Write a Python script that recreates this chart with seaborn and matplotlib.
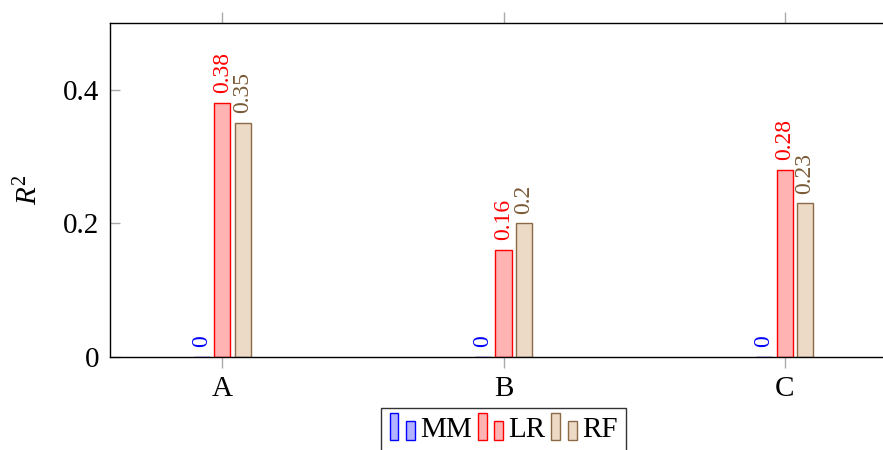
import pandas as pd
import matplotlib
matplotlib.use("Agg")
import matplotlib.pyplot as plt
import seaborn as sns
from matplotlib.patches import Rectangle
from matplotlib.legend_handler import HandlerBase

# data
categories = ["A", "B", "C"]
methods = ["MM", "LR", "RF"]
mm_r2 = [0, 0, 0]
lr_r2 = [0.38, 0.16, 0.28]
rf_r2 = [0.35, 0.2, 0.23]
y_ticks = [0, 0.2, 0.4]

fills = {"MM": "#b3b3ff", "LR": "#ffb3b3", "RF": "#ecd9c6"}
edges = {"MM": "#0000ff", "LR": "#ff0000", "RF": "#8c6a46"}
label_colors = {"MM": "#0000ff", "LR": "#ff0000", "RF": "#7a5a36"}

sns.set_theme(style="white")
plt.rcParams["font.family"] = ["Liberation Serif", "DejaVu Serif"]
plt.rcParams["mathtext.fontset"] = "custom"
plt.rcParams["mathtext.rm"] = "Liberation Serif"
plt.rcParams["mathtext.it"] = "Liberation Serif:italic"
plt.rcParams["text.color"] = "black"
plt.rcParams["axes.labelcolor"] = "black"
plt.rcParams["xtick.labelcolor"] = "black"
plt.rcParams["ytick.labelcolor"] = "black"

df = pd.DataFrame({
    "category": categories * 3,
    "method": ["MM"] * 3 + ["LR"] * 3 + ["RF"] * 3,
    "r2": mm_r2 + lr_r2 + rf_r2,
})

fig = plt.figure(figsize=(8.83, 4.5), dpi=100)
W, H = 883, 450
ax = fig.add_axes([110 / W, (H - 357) / H, 787 / W, 334 / H])

sns.barplot(data=df, x="category", y="r2", hue="method", order=categories,
            hue_order=methods, palette=fills, width=0.219, gap=0.22,
            saturation=1, ax=ax, legend=False)

for cont, m in zip(ax.containers, methods):
    for bar in cont:
        bar.set_edgecolor(edges[m])
        bar.set_linewidth(1.0)
    ax.bar_label(cont, fmt="%g", rotation=90, padding=7, color=label_colors[m],
                 fontsize=17)

ax.set_xlim(-0.4, 2.4)
ax.set_ylim(0, 0.5)
ax.set_yticks(y_ticks)
ax.set_yticklabels(["0", "0.2", "0.4"])
ax.set_xlabel("")
ax.set_ylabel("$R^2$", fontsize=21)
ax.yaxis.set_label_coords(-0.085, 0.5)

for s in ax.spines.values():
    s.set_color("black")
    s.set_linewidth(1.0)

ax.tick_params(axis="x", which="both", direction="out", length=8, width=1,
               color="#aaaaaa", top=True, bottom=True, labelsize=21, pad=6)
ax.tick_params(axis="y", which="both", direction="in", length=7, width=1,
               color="#aaaaaa", left=True, right=False, labelsize=21, pad=8)


class TwoBarHandler(HandlerBase):
    def __init__(self, face, edge):
        super().__init__()
        self.face = face
        self.edge = edge

    def create_artists(self, legend, orig_handle, xdescent, ydescent, width,
                       height, fontsize, trans):
        bw = width * 0.36
        y0 = -ydescent - height * 0.15
        r1 = Rectangle((-xdescent, y0), bw, height * 1.3,
                       facecolor=self.face, edgecolor=self.edge, lw=1, transform=trans)
        r2 = Rectangle((-xdescent + width * 0.66, y0), bw, height * 0.95,
                       facecolor=self.face, edgecolor=self.edge, lw=1, transform=trans)
        return [r1, r2]


handles = [Rectangle((0, 0), 1, 1, label=m) for m in methods]
hmap = {h: TwoBarHandler(fills[m], edges[m]) for h, m in zip(handles, methods)}
leg = ax.legend(handles=handles, labels=methods, handler_map=hmap, ncol=3,
                loc="upper center", bbox_to_anchor=(0.5, -0.152), frameon=True,
                fancybox=False, shadow=False, fontsize=21, handlelength=0.85,
                handletextpad=0.2, columnspacing=0.2, borderpad=0.3,
                borderaxespad=0)
leg.get_frame().set_edgecolor("black")
leg.get_frame().set_linewidth(1.0)

fig.savefig("out.png", dpi=100)
